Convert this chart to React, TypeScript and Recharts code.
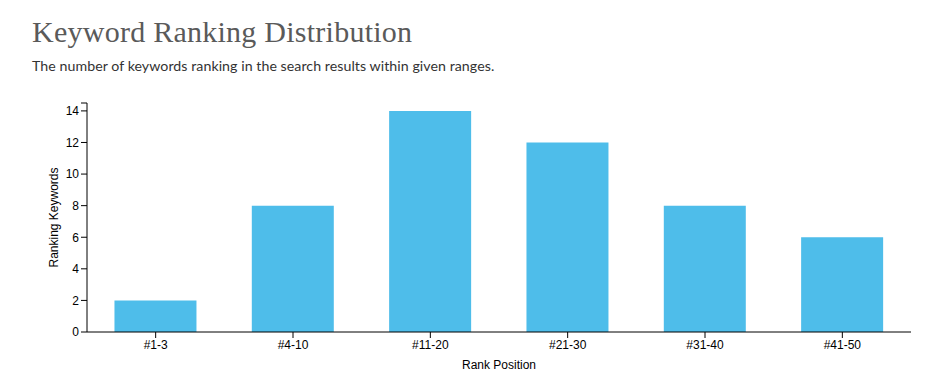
import React from 'react';
import { BarChart, Bar, XAxis, YAxis } from 'recharts';

const categories = ['#1-3', '#4-10', '#11-20', '#21-30', '#31-40', '#41-50'];
const keywordCounts = [2, 8, 14, 12, 8, 6];
const yTicks = [0, 2, 4, 6, 8, 10, 12, 14, 14.5];

const data = categories.map((c, i) => ({ range: c, count: keywordCounts[i] }));

export default function App() {
  return (
    <div style={{ position: 'absolute', left: 0, top: 0, width: 950, height: 375, background: '#fff', fontFamily: 'Lato, sans-serif' }}>
      <div style={{ position: 'absolute', left: 32, top: 17, fontFamily: '"Liberation Serif", serif', fontSize: 30, lineHeight: '30px', color: '#5a5a5a', letterSpacing: 0.25, whiteSpace: 'nowrap' }}>
        Keyword Ranking Distribution
      </div>
      <div style={{ position: 'absolute', left: 32, top: 59, fontFamily: 'Lato, sans-serif', fontSize: 14.2, lineHeight: '14px', color: '#333', letterSpacing: 0.05, whiteSpace: 'nowrap' }}>
        The number of keywords ranking in the search results within given ranges.
      </div>
      <div style={{ position: 'absolute', left: 0, top: 0 }}>
        <BarChart
          width={950}
          height={375}
          data={data}
          margin={{ top: 103, right: 39, bottom: 13, left: 47 }}
          barCategoryGap="20%"
        >
          <XAxis
            dataKey="range"
            height={30}
            tickLine={{ stroke: '#000' }}
            axisLine={{ stroke: '#000' }}
            tickSize={6}
            tick={{ fill: '#000', fontSize: 12, fontFamily: '"Liberation Sans", Arial, sans-serif' }}
            label={{
              content: (p: any) => {
                const vb = p.viewBox || {};
                return (
                  <text x={vb.x + vb.width / 2} y={369} textAnchor="middle" fontSize={12} fill="#000" fontFamily='"Liberation Sans", Arial, sans-serif'>
                    Rank Position
                  </text>
                );
              },
            }}
          />
          <YAxis
            width={40}
            domain={[0, 14.5]}
            ticks={yTicks}
            interval={0}
            tickFormatter={(v: number) => (v === 14.5 ? '' : String(v))}
            tickLine={{ stroke: '#000' }}
            axisLine={{ stroke: '#000' }}
            tickSize={6}
            tick={{ fill: '#000', fontSize: 12, fontFamily: '"Liberation Sans", Arial, sans-serif' }}
            label={{
              content: (p: any) => {
                const vb = p.viewBox || {};
                const cx = 54;
                const cy = vb.y + vb.height / 2;
                return (
                  <text x={cx} y={cy} transform={`rotate(-90 ${cx} ${cy})`} textAnchor="middle" dominantBaseline="central" fontSize={12} fill="#000" fontFamily='"Liberation Sans", Arial, sans-serif'>
                    Ranking Keywords
                  </text>
                );
              },
            }}
          />
          <Bar dataKey="count" fill="#4ebdea" isAnimationActive={false} />
        </BarChart>
      </div>
    </div>
  );
}
